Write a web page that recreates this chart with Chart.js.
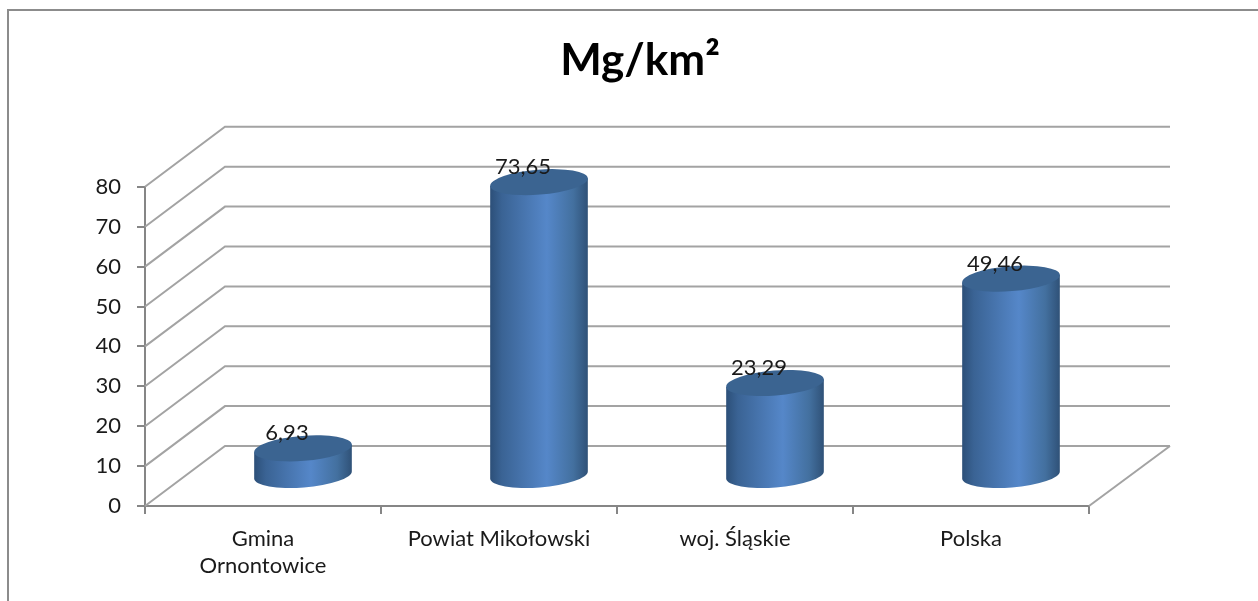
<!DOCTYPE html>
<html>
<head>
<meta charset="utf-8">
<title>Mg/km²</title>
<style>
  html, body { margin: 0; padding: 0; background: #fff; overflow: hidden; }
  #box { position: relative; width: 1258px; height: 601px; }
</style>
</head>
<body>
<div id="box"><canvas id="chart" width="1258" height="601"></canvas></div>
<script src="https://cdn.jsdelivr.net/npm/chart.js@4"></script>
<script>
const chartTitle = 'Mg/km²';
const categories = [['Gmina', 'Ornontowice'], 'Powiat Mikołowski', 'woj. Śląskie', 'Polska'];
const values = [6.93, 73.65, 23.29, 49.46];
const yMax = 80;
const yStep = 10;

// 3d look: how far the back wall sits from the front axes
const depthX = 80;
const depthY = -60;
const gridColor = '#a3a3a3';
const axisColor = '#868686';
const tilt = -4.5 * Math.PI / 180;

function wallPlugin(chart) {
    const ctx = chart.ctx;
    const y = chart.scales.y;
    const area = chart.chartArea;
    ctx.save();
    ctx.strokeStyle = gridColor;
    ctx.lineWidth = 2;
    y.ticks.forEach(function (t) {
        const py = y.getPixelForValue(t.value);
        ctx.beginPath();
        ctx.moveTo(area.left, py);
        ctx.lineTo(area.left + depthX, py + depthY);
        ctx.lineTo(area.right + depthX + 1, py + depthY);
        ctx.stroke();
    });
    // right edge of the floor
    const py0 = y.getPixelForValue(0);
    ctx.beginPath();
    ctx.moveTo(area.right + depthX + 1, py0 + depthY);
    ctx.lineTo(area.right, py0);
    ctx.stroke();
    ctx.restore();
}

function drawCylinder(ctx, cx, top, bottom, rx, ry) {
    const dx = rx * Math.cos(tilt);
    const dy = rx * Math.sin(tilt);
    const g = ctx.createLinearGradient(cx - rx, 0, cx + rx, 0);
    g.addColorStop(0, '#2c4f78');
    g.addColorStop(0.12, '#3a6394');
    g.addColorStop(0.58, '#5587c9');
    g.addColorStop(0.85, '#43709f');
    g.addColorStop(1, '#2f5177');

    ctx.beginPath();
    ctx.moveTo(cx - dx, top - dy);
    ctx.lineTo(cx - dx, bottom - dy);
    ctx.ellipse(cx, bottom, rx, ry, tilt, Math.PI, 0, true);
    ctx.lineTo(cx + dx, top + dy);
    ctx.closePath();
    ctx.fillStyle = g;
    ctx.fill();

    ctx.beginPath();
    ctx.ellipse(cx, top, rx, ry, tilt, 0, Math.PI * 2);
    ctx.fillStyle = '#3b6491';
    ctx.fill();
}

const cylinders = {
    id: 'cylinders',
    beforeDatasetsDraw: wallPlugin,
    afterDatasetsDraw(chart) {
        const ctx = chart.ctx;
        const meta = chart.getDatasetMeta(0);
        ctx.save();
        meta.data.forEach(function (bar) {
            const rx = bar.width / 2;
            drawCylinder(ctx, bar.x + depthX / 2, bar.y + depthY / 2, bar.base + depthY / 2, rx, 12.5);
        });
        ctx.fillStyle = '#1a1a1a';
        ctx.font = '22px Lato';
        ctx.textAlign = 'center';
        ctx.textBaseline = 'middle';
        meta.data.forEach(function (bar, i) {
            const label = values[i].toFixed(2).replace('.', ',');
            ctx.fillText(label, bar.x + depthX / 2 - 16, bar.y + depthY / 2 - 15);
        });
        ctx.restore();
    },
    afterLayout(chart) {
        // title is centred a bit right of the canvas middle
        chart.titleBlock.left = 22;
        chart.titleBlock.right = chart.width;
    },
    beforeDraw(chart) {
        // outer frame, only top and left show in the crop
        const ctx = chart.ctx;
        ctx.save();
        ctx.strokeStyle = '#8c8c8c';
        ctx.lineWidth = 2;
        ctx.beginPath();
        ctx.moveTo(8, chart.height);
        ctx.lineTo(8, 10);
        ctx.lineTo(chart.width, 10);
        ctx.stroke();
        ctx.restore();
    }
};

new Chart(document.getElementById('chart'), {
    type: 'bar',
    data: {
        labels: categories,
        datasets: [{
            label: chartTitle,
            data: values,
            backgroundColor: 'rgba(0,0,0,0)',
            borderWidth: 0,
            barPercentage: 0.415,
            categoryPercentage: 1
        }]
    },
    options: {
        responsive: false,
        animation: false,
        layout: { padding: { left: 0, right: 169, top: 0, bottom: 0 } },
        plugins: {
            legend: { display: false },
            tooltip: { enabled: false },
            title: {
                display: true,
                text: chartTitle,
                color: '#000',
                font: { family: 'Lato', size: 44, weight: 'bold' },
                padding: { top: 34, bottom: 100 }
            }
        },
        scales: {
            x: {
                grid: { drawOnChartArea: false, color: axisColor, lineWidth: 2, tickLength: 8, offset: true },
                border: { color: axisColor, width: 2 },
                ticks: { color: '#1a1a1a', font: { family: 'Lato', size: 22 }, padding: 12, maxRotation: 0, autoSkip: false },
                afterFit(scale) { scale.height = 95; }
            },
            y: {
                min: 0,
                max: yMax,
                grid: { drawOnChartArea: false, color: axisColor, lineWidth: 2, tickLength: 8 },
                border: { color: axisColor, width: 2 },
                ticks: { stepSize: yStep, color: '#1a1a1a', font: { family: 'Lato', size: 22 }, padding: 16 },
                afterFit(scale) { scale.width = 145; }
            }
        }
    },
    plugins: [cylinders]
});
</script>
</body>
</html>
